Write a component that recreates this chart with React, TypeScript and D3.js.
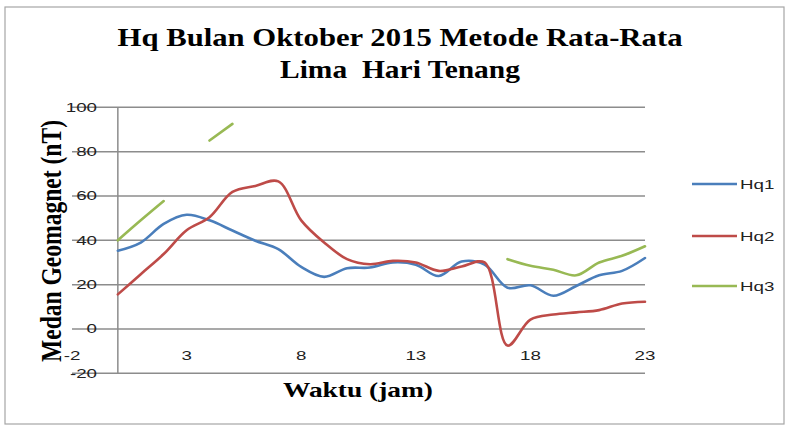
import React from "react";
import * as d3 from "d3";

const hours = [0, 1, 2, 3, 4, 5, 6, 7, 8, 9, 10, 11, 12, 13, 14, 15, 16, 17, 18, 19, 20, 21, 22, 23];
const hq1 = [35.3, 39, 47.4, 51.5, 49, 44.4, 39.8, 36, 28, 23.5, 27.4, 27.7, 30, 29, 23.9, 30.4, 29, 18.6, 19.7, 15, 19.4, 24.2, 26.2, 32];
const hq2 = [15.6, 24.7, 33.8, 44.5, 50.4, 61.8, 64.5, 66.6, 49, 39, 31.5, 29.2, 30.7, 30, 26.2, 28.2, 30, -7.5, 4.2, 6.5, 7.5, 8.5, 11.5, 12.3];
const hq3: (number | null)[] = [40, 49, 57.7, null, 85, 92.5, null, null, null, null, null, null, null, null, null, null, null, 31.5, 28.5, 26.7, 24.2, 30, 33, 37.3];
const seriesNames = ["Hq1", "Hq2", "Hq3"];
const seriesColors = ["#4a7ebb", "#be4b48", "#98b954"];
const xTicks = [-2, 3, 8, 13, 18, 23];
const yTicks = [-20, 0, 20, 40, 60, 80, 100];
const titleLines = ["Hq Bulan Oktober 2015 Metode Rata-Rata", "Lima\u00a0 Hari Tenang"];
const xTitle = "Waktu (jam)";
const yTitle = "Medan Geomagnet (nT)";

const W = 787;
const H = 428;
const SANS = "'Liberation Sans', Arial, sans-serif";
const SERIF = "'Liberation Serif', 'Times New Roman', serif";
const SX = 1.5;

function SText({ x, y, anchor, children, size = 12.5 }: any) {
  return (
    <text
      transform={`translate(${x},${y}) scale(${SX},1)`}
      textAnchor={anchor}
      fontFamily={SANS}
      fontSize={size}
      fill="#222"
    >
      {children}
    </text>
  );
}

export default function App() {
  const x = d3.scaleLinear().domain([-2, 23]).range([72, 645]);
  const y = d3.scaleLinear().domain([-20, 100]).range([373.3, 107.3]);
  const all = [hq1, hq2, hq3];
  const line = d3
    .line<[number, number | null]>()
    .defined((d) => d[1] != null)
    .x((d) => x(d[0]))
    .y((d) => y(d[1] as number))
    .curve(d3.curveCatmullRom.alpha(0.5));

  const legendY = [184, 236, 286];

  return (
    <svg width={W} height={H} style={{ position: "absolute", left: 0, top: 0, background: "#fff" }}>
      <rect x={5} y={7} width={779} height={417} fill="#fff" stroke="#a6a6a6" strokeWidth={1.2} />
      {titleLines.map((t, i) => (
        <text
          key={i}
          x={400}
          y={i === 0 ? 45.7 : 78.3}
          textAnchor="middle"
          fontFamily={SERIF}
          fontWeight="bold"
          fontSize={26}
          textLength={i === 0 ? 565 : 240}
          lengthAdjust="spacingAndGlyphs"
          fill="#000"
        >
          {t}
        </text>
      ))}
      {yTicks.map((v) => (
        <line key={v} x1={x(-2)} x2={x(23)} y1={y(v)} y2={y(v)} stroke="#8c8c8c" strokeWidth={1.5} />
      ))}
      <line x1={x(0)} x2={x(0)} y1={y(100)} y2={y(-20)} stroke="#8c8c8c" strokeWidth={1.5} />
      {yTicks.map((v) => (
        <SText key={"yl" + v} x={97} y={y(v) + 4.5} anchor="end">
          {v}
        </SText>
      ))}
      {xTicks.map((v) => (
        <SText key={"xl" + v} x={x(v)} y={360} anchor="middle">
          {v}
        </SText>
      ))}
      {all.map((s, i) => (
        <path
          key={i}
          d={line(hours.map((h, j) => [h, s[j]]) as any) || ""}
          fill="none"
          stroke={seriesColors[i]}
          strokeWidth={2.6}
          strokeLinejoin="round"
          strokeLinecap="round"
        />
      ))}
      <text
        x={358}
        y={396.7}
        textAnchor="middle"
        fontFamily={SERIF}
        fontWeight="bold"
        fontSize={22}
        textLength={150}
        lengthAdjust="spacingAndGlyphs"
        fill="#000"
      >
        {xTitle}
      </text>
      <text
        transform={`translate(61,241) scale(1.3,1) rotate(-90)`}
        textAnchor="middle"
        fontFamily={SERIF}
        fontWeight="bold"
        fontSize={23}
        textLength={242}
        lengthAdjust="spacingAndGlyphs"
        fill="#000"
      >
        {yTitle}
      </text>
      {seriesNames.map((n, i) => (
        <g key={n}>
          <line x1={692} x2={737} y1={legendY[i]} y2={legendY[i]} stroke={seriesColors[i]} strokeWidth={2.6} />
          <SText x={740} y={legendY[i] + 4.5} anchor="start">
            {n}
          </SText>
        </g>
      ))}
    </svg>
  );
}
